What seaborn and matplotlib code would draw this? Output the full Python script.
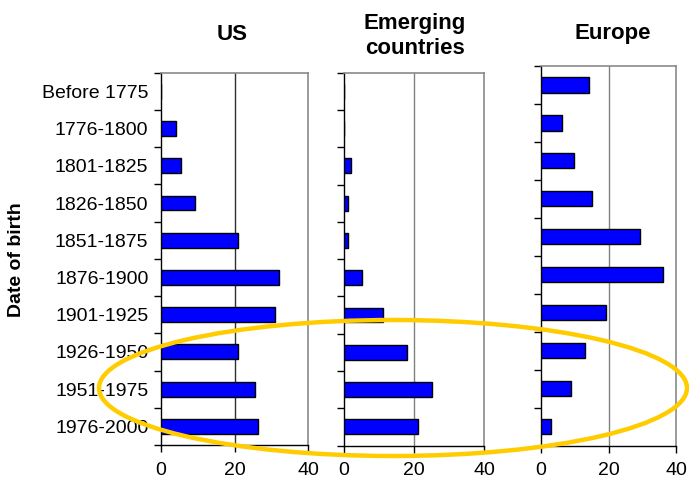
import matplotlib
matplotlib.use("Agg")
import matplotlib.pyplot as plt
from matplotlib.patches import Ellipse
import seaborn as sns
import pandas as pd
import numpy as np

# ---- data ----
categories = ["Before 1775", "1776-1800", "1801-1825", "1826-1850", "1851-1875",
              "1876-1900", "1901-1925", "1926-1950", "1951-1975", "1976-2000"]
us_values = [0, 4, 5.4, 9.2, 21, 32, 31, 21, 25.5, 26.4]
emerging_values = [0, 0, 2.1, 1, 1, 5.1, 11, 18, 25, 21]
europe_values = [14.2, 6.2, 9.9, 15.1, 29.2, 36, 19.3, 13.1, 8.8, 3.1]
panel_titles = ["US", "Emerging\ncountries", "Europe"]
x_ticks = [0, 20, 40]
y_label = "Date of birth"

sns.set_style("white")
plt.rcParams["font.family"] = ["Liberation Sans", "DejaVu Sans"]
plt.rcParams["text.color"] = "black"
plt.rcParams["xtick.color"] = "black"
plt.rcParams["ytick.color"] = "black"
plt.rcParams["xtick.labelcolor"] = "black"
plt.rcParams["ytick.labelcolor"] = "black"

W, H = 689, 479
fig = plt.figure(figsize=(W / 100, H / 100), dpi=100)

def px_axes(l, r, t, b):
    return fig.add_axes([l / W, 1 - b / H, (r - l) / W, (b - t) / H])

boxes = [(161, 308, 72.7, 445), (344, 484, 72.7, 445.5), (541, 676, 66, 445.5)]
series = [us_values, emerging_values, europe_values]
grid_colors = ["#303030", "#808080", "#808080"]
title_pos = [(232, 34), (415, 36), (613, 33)]

for i, (box, vals) in enumerate(zip(boxes, series)):
    ax = px_axes(*box)
    df = pd.DataFrame({"cat": categories, "val": vals})
    sns.barplot(data=df, x="val", y="cat", orient="h", ax=ax, width=0.4,
                color="#0000FF", edgecolor="black", linewidth=1.0,
                saturation=1, zorder=3)
    ax.set_xlim(0, 40)
    ax.set_ylim(len(categories) - 0.5, -0.5)
    ax.set_xticks(x_ticks)
    ax.set_xticklabels([str(v) for v in x_ticks], fontsize=14)
    ax.axvline(20, color=grid_colors[i], linewidth=1.0, zorder=1)
    ax.set_xlabel("")
    ax.set_ylabel("")
    ax.set_yticks(range(len(categories)))
    if i == 0:
        ax.set_yticklabels(categories, fontsize=14)
    else:
        ax.set_yticklabels([])
    ax.tick_params(axis="y", which="major", length=0, pad=9)
    ax.set_yticks(np.arange(-0.5, len(categories), 1.0), minor=True)
    ax.tick_params(axis="y", which="minor", length=5, width=1, color="black",
                   direction="out", left=True)
    ax.tick_params(axis="x", which="major", length=5, width=1, color="black",
                   direction="out", bottom=True, pad=7)
    for s in ["left", "bottom"]:
        ax.spines[s].set_color("black")
        ax.spines[s].set_linewidth(1.0)
    for s in ["top", "right"]:
        ax.spines[s].set_color("#8a8a8a")
        ax.spines[s].set_linewidth(1.2)
    tx, ty = title_pos[i]
    fig.text(tx / W, 1 - ty / H, panel_titles[i], ha="center", va="center",
             fontsize=16, fontweight="bold", linespacing=1.3, color="black")

fig.text(17 / W, 1 - 260 / H, y_label, rotation=90, ha="center", va="center",
         fontsize=14, fontweight="bold", color="black")

ell = Ellipse((393 / W, 1 - 388 / H), 588 / W, 136 / H, transform=fig.transFigure,
              fill=False, edgecolor="#FFCC00", linewidth=3.2, zorder=10)
fig.patches.append(ell)

fig.savefig("out.png", dpi=100)
